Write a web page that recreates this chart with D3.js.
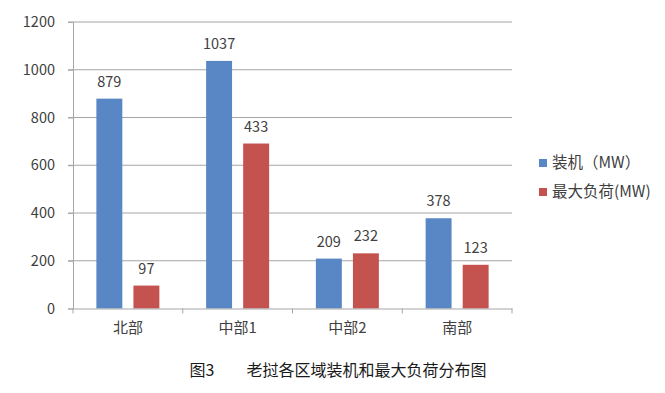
<!DOCTYPE html>
<html><head><meta charset="utf-8">
<script src="https://cdn.jsdelivr.net/npm/d3@7"></script>
<style>body{margin:0;background:#fff;} svg{display:block;}</style>
</head><body>
<svg id="c" width="665" height="393"></svg>
<script>
const categories = ["北部", "中部1", "中部2", "南部"];
const seriesNames = ["装机（MW）", "最大负荷(MW)"];
const installed = [879, 1037, 209, 378];
const peakBars = [96, 691, 231, 183];
const installedLabels = ["879", "1037", "209", "378"];
const peakLabels = ["97", "433", "232", "123"];
const yTicks = [0, 200, 400, 600, 800, 1000, 1200];
const colors = ["#5986C4", "#C4524F"];
const title = "图3　　老挝各区域装机和最大负荷分布图";

const svg = d3.select("#c");
const font = "'Noto Sans CJK SC', 'Liberation Sans', sans-serif";
const x0 = d3.scaleBand().domain(categories).range([73, 512]).paddingInner(0).paddingOuter(0);
const y = d3.scaleLinear().domain([0, 1200]).range([308.5, 22]);
const x1 = d3.scaleBand().domain([0, 1]).range([0, 63]).paddingInner(0.3);

// gridlines
svg.append("g").selectAll("line").data(yTicks.filter(d => d > 0)).join("line")
  .attr("x1", 68).attr("x2", 512)
  .attr("y1", d => y(d)).attr("y2", d => y(d))
  .attr("stroke", "#a6a6a6").attr("stroke-width", 1);

// y axis
const yAxis = svg.append("g").attr("transform", "translate(73,0)")
  .call(d3.axisLeft(y).tickValues(yTicks).tickFormat(d3.format("d")).tickSize(5).tickPadding(13));
yAxis.select(".domain").attr("stroke", "#a6a6a6");
yAxis.selectAll(".tick line").attr("stroke", "#a6a6a6");
yAxis.selectAll("text").attr("font-family", font).attr("font-size", 14.5).attr("fill", "#404040");

// bars
const seriesVals = [installed, peakBars];
const seriesLabels = [installedLabels, peakLabels];
const groups = svg.append("g").selectAll("g").data(categories).join("g")
  .attr("transform", d => `translate(${x0(d) + (x0.bandwidth() - 63) / 2},0)`);
groups.selectAll("rect").data((d, i) => [0, 1].map(s => ({s, v: seriesVals[s][i], l: seriesLabels[s][i]})))
  .join("rect")
  .attr("x", d => x1(d.s)).attr("width", x1.bandwidth())
  .attr("y", d => y(d.v)).attr("height", d => y(0) - y(d.v))
  .attr("fill", d => colors[d.s]);
groups.selectAll("text").data((d, i) => [0, 1].map(s => ({s, v: seriesVals[s][i], l: seriesLabels[s][i]})))
  .join("text")
  .attr("x", d => x1(d.s) + x1.bandwidth() / 2)
  .attr("y", d => y(d.v) - 12)
  .attr("text-anchor", "middle")
  .attr("font-family", font).attr("font-size", 14.5).attr("fill", "#404040")
  .text(d => d.l);

// x axis
const xAxis = svg.append("g").attr("transform", `translate(0,${y(0)})`)
  .call(d3.axisBottom(x0).tickSize(0).tickPadding(14));
xAxis.select(".domain").attr("stroke", "#a6a6a6");
xAxis.selectAll("text").attr("font-family", font).attr("font-size", 15).attr("fill", "#404040");
svg.append("g").selectAll("line").data(d3.range(categories.length + 1)).join("line")
  .attr("x1", i => 73 + i * x0.bandwidth()).attr("x2", i => 73 + i * x0.bandwidth())
  .attr("y1", y(0)).attr("y2", y(0) + 5)
  .attr("stroke", "#a6a6a6");

// legend
const leg = svg.append("g").selectAll("g").data(seriesNames).join("g")
  .attr("transform", (d, i) => `translate(539,${159 + i * 29})`);
leg.append("rect").attr("width", 8).attr("height", 8).attr("fill", (d, i) => colors[i]);
leg.append("text").attr("x", 13).attr("y", 4).attr("dy", "0.35em")
  .attr("font-family", font).attr("font-size", 15.5).attr("fill", "#404040").text(d => d);

// title
svg.append("text").attr("x", 338).attr("y", 370).attr("dy", "0.35em").attr("text-anchor", "middle")
  .attr("font-family", font).attr("font-size", 16).attr("fill", "#1a1a1a").text(title);
</script>
</body></html>
